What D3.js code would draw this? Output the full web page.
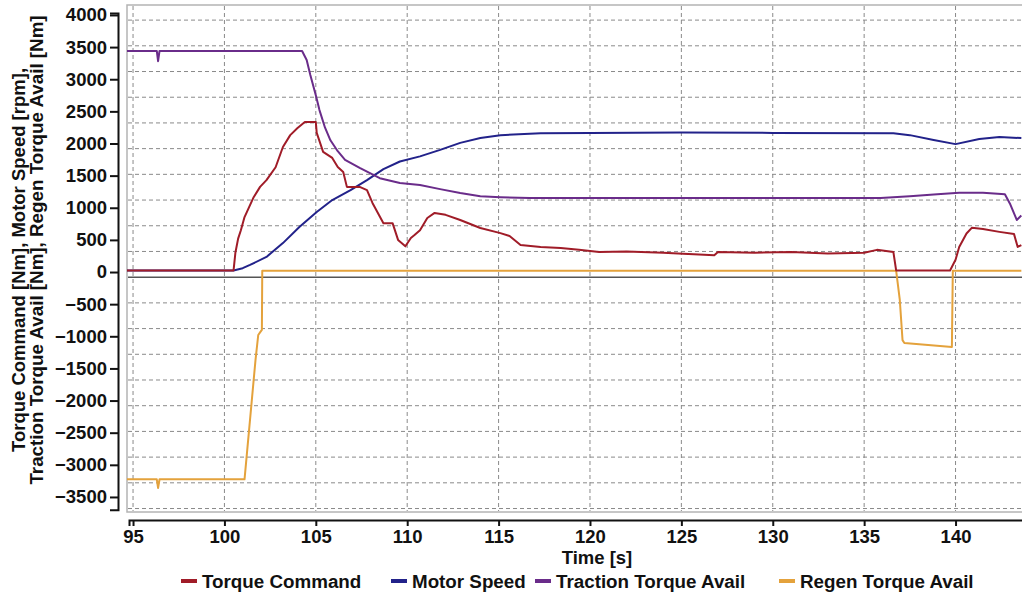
<!DOCTYPE html>
<html>
<head>
<meta charset="utf-8">
<script src="https://cdn.jsdelivr.net/npm/d3@7"></script>
<style>
  body { margin: 0; background: #fff; }
  text { font-family: "Liberation Sans", Arial, sans-serif; font-weight: bold; fill: #111; }
</style>
</head>
<body>
<script>
// ---- data ----
const xTicks = [95, 100, 105, 110, 115, 120, 125, 130, 135, 140];
const yTicks = [-3500, -3000, -2500, -2000, -1500, -1000, -500, 0, 500, 1000, 1500, 2000, 2500, 3000, 3500, 4000];
// horizontal grid belongs to a second (hidden) axis, offset from the labelled ticks
const gridY = [3920, 3520, 3120, 2720, 2320, 1920, 1520, 1120, 720, 320, -480, -880, -1280, -1680, -2080, -2480, -2880, -3280, -3680];
const gridZero = -80;

const torqueT = [94.67, 100.5, 100.6, 100.75, 100.9, 101.1, 101.6, 101.95, 102.3, 102.8, 103.2, 103.6, 104.0, 104.4, 105.0, 105.05, 105.4, 105.9, 106.2, 106.5, 106.7, 107.4, 107.8, 108.1, 108.7, 109.2, 109.5, 109.9, 110.2, 110.4, 110.7, 111.1, 111.5, 112.1, 112.9, 114, 115.1, 115.6, 116.2, 117.3, 118.4, 119.4, 120.5, 122, 124, 126.8, 127, 129, 131, 133, 135.0, 135.7, 136.6, 136.75, 139.7, 140.0, 140.2, 140.6, 140.9, 141.5, 142.4, 143.2, 143.4, 143.6];
const torqueV = [25, 25, 300, 520, 650, 855, 1165, 1325, 1430, 1630, 1945, 2130, 2240, 2335, 2335, 2165, 1870, 1775, 1635, 1555, 1325, 1325, 1275, 1075, 760, 760, 500, 400, 530, 575, 650, 840, 920, 890, 810, 685, 605, 560, 420, 390, 375, 345, 310, 320, 300, 260, 310, 300, 310, 290, 300, 345, 310, 25, 25, 190, 390, 600, 690, 670, 625, 590, 390, 420];

const speedT = [94.67, 100.5, 101.0, 101.4, 102.3, 103.2, 104.1, 105.05, 105.9, 106.9, 107.8, 108.7, 109.6, 110.7, 111.8, 112.9, 114, 115.1, 117.3, 120, 125, 130, 136.6, 137.5, 138.8, 140, 141.3, 142.4, 143.6];
const speedV = [25, 25, 60, 110, 235, 450, 700, 935, 1120, 1275, 1430, 1600, 1720, 1800, 1900, 2010, 2085, 2130, 2160, 2165, 2170, 2165, 2160, 2130, 2055, 1990, 2070, 2100, 2085];

const tractionT = [94.67, 96.3, 96.37, 96.45, 104.25, 104.5, 104.7, 105.0, 105.2, 105.5, 105.8, 106.2, 106.6, 107.4, 108.5, 109.6, 110.7, 111.8, 112.9, 114, 115.1, 116.7, 120, 125, 130, 135.9, 137.5, 139, 140.2, 141.5, 142.7, 143.0, 143.35, 143.6];
const tractionV = [3440, 3440, 3280, 3440, 3440, 3300, 3066, 2750, 2520, 2250, 2050, 1880, 1745, 1620, 1460, 1385, 1355, 1290, 1230, 1180, 1165, 1150, 1150, 1150, 1150, 1150, 1180, 1210, 1235, 1235, 1210, 1050, 810, 880];

const regenT = [94.67, 96.3, 96.37, 96.45, 101.1, 101.4, 101.7, 101.85, 101.95, 102.05, 102.07, 136.6, 136.75, 136.95, 137.1, 137.2, 139.8, 139.85, 143.6];
const regenV = [-3225, -3225, -3360, -3225, -3225, -2300, -1370, -980, -940, -900, 20, 20, 20, -435, -1060, -1105, -1165, 20, 20];

const seriesNames = ['Torque Command', 'Motor Speed', 'Traction Torque Avail', 'Regen Torque Avail'];
const seriesColors = ['#a01c28', '#22228a', '#6a2c8a', '#e4a23c'];

// ---- layout ----
const width = 1022;
const height = 596;
const frame = { left: 127, right: 1025, top: 5, bottom: 512 };

let svg = d3.select('body')
    .append('svg')
    .attr('width', width)
    .attr('height', height);

let x = d3.scaleLinear()
    .domain([94.67, 143.8])
    .range([frame.left, frame.right]);

let y = d3.scaleLinear()
    .domain([-3734, 4155])
    .range([frame.bottom, frame.top]);

// plot frame
svg.append('rect')
    .attr('x', frame.left)
    .attr('y', frame.top)
    .attr('width', frame.right - frame.left)
    .attr('height', frame.bottom - frame.top)
    .attr('fill', '#fff')
    .attr('stroke', '#b4b4b4')
    .attr('stroke-width', 1.5);

let grid = svg.append('g').classed('grid', true);

grid.selectAll('.vgrid')
    .data(xTicks)
    .enter()
    .append('line')
    .attr('x1', d => x(d))
    .attr('x2', d => x(d))
    .attr('y1', frame.top + 1)
    .attr('y2', frame.bottom - 1)
    .attr('stroke', '#8a8a8a')
    .attr('stroke-width', 1)
    .attr('stroke-dasharray', '4,3');

grid.selectAll('.hgrid')
    .data(gridY)
    .enter()
    .append('line')
    .attr('x1', frame.left + 1)
    .attr('x2', frame.right)
    .attr('y1', d => y(d))
    .attr('y2', d => y(d))
    .attr('stroke', '#8a8a8a')
    .attr('stroke-width', 1)
    .attr('stroke-dasharray', '4,3');

grid.append('line')
    .attr('x1', frame.left + 1)
    .attr('x2', frame.right)
    .attr('y1', y(gridZero))
    .attr('y2', y(gridZero))
    .attr('stroke', '#555')
    .attr('stroke-width', 1.5);

// axes
let yAxisScale = y.copy().domain([-3700, 4030]).range([y(-3700), y(4030)]);
let yAxis = d3.axisLeft(yAxisScale)
    .tickValues(yTicks)
    .tickSize(8)
    .tickPadding(3)
    .tickFormat(d3.format('d'));

let yAxisGroup = svg.append('g')
    .classed('y axis', true)
    .attr('transform', 'translate(118,0)')
    .call(yAxis);

let xAxisScale = x.copy().domain([94.78, 143.8]).range([x(94.78), x(143.8)]);
let xAxis = d3.axisBottom(xAxisScale)
    .tickValues(xTicks)
    .tickSize(6)
    .tickPadding(4)
    .tickFormat(d3.format('d'));

let xAxisGroup = svg.append('g')
    .classed('x axis', true)
    .attr('transform', 'translate(0,520)')
    .call(xAxis);

svg.selectAll('.axis path, .axis line')
    .attr('stroke', '#111')
    .attr('stroke-width', 2);
svg.selectAll('.axis text')
    .style('font-size', '18.5px');

// axis titles
svg.append('text')
    .attr('x', 597)
    .attr('y', 564)
    .attr('text-anchor', 'middle')
    .style('font-size', '18.5px')
    .text('Time [s]');

svg.append('text')
    .attr('transform', 'translate(25,260) rotate(-90)')
    .attr('text-anchor', 'middle')
    .style('font-size', '18.5px')
    .text('Torque Command [Nm], Motor Speed [rpm],');

svg.append('text')
    .attr('transform', 'translate(43,250) rotate(-90)')
    .attr('text-anchor', 'middle')
    .style('font-size', '18.8px')
    .text('Traction Torque Avail [Nm], Regen Torque Avail [Nm]');

// series
svg.append('clipPath').attr('id', 'plotclip')
    .append('rect')
    .attr('x', frame.left)
    .attr('y', frame.top)
    .attr('width', frame.right - frame.left)
    .attr('height', frame.bottom - frame.top);

let line = d3.line()
    .x(d => x(d[0]))
    .y(d => y(d[1]));

let seriesData = [
    d3.zip(torqueT, torqueV),
    d3.zip(speedT, speedV),
    d3.zip(tractionT, tractionV),
    d3.zip(regenT, regenV)
];

let linesGroup = svg.append('g')
    .classed('lines', true)
    .attr('clip-path', 'url(#plotclip)');

// draw order: regen, speed, traction, torque on top
[3, 1, 2, 0].forEach(i => {
    linesGroup.append('path')
        .datum(seriesData[i])
        .attr('d', line)
        .attr('fill', 'none')
        .attr('stroke', seriesColors[i])
        .attr('stroke-width', 2)
        .attr('stroke-linejoin', 'round');
});

// legend
let legendX = [181, 391, 535, 779];
let legend = svg.append('g').classed('legend', true);
seriesNames.forEach((name, i) => {
    let item = legend.append('g')
        .attr('transform', `translate(${legendX[i]},581)`);
    item.append('line')
        .attr('x1', 0)
        .attr('x2', 16)
        .attr('stroke', seriesColors[i])
        .attr('stroke-width', 4);
    item.append('text')
        .attr('x', 21)
        .attr('y', 6.7)
        .style('font-size', '18.8px')
        .text(name);
});
</script>
</body>
</html>
